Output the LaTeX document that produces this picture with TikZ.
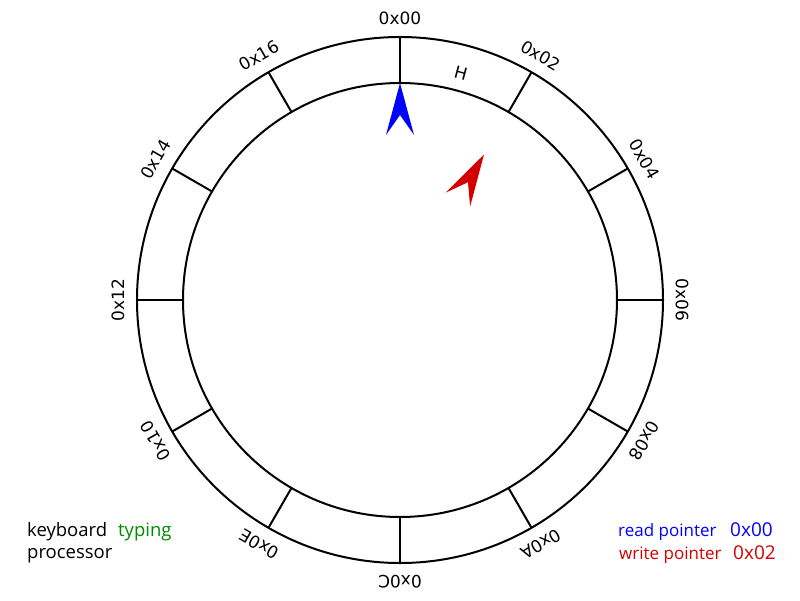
\documentclass[tikz,border=0pt]{standalone}
\usepackage{fontspec}
\setmainfont{DejaVu Sans}
\newfontfamily\legfont{Open Sans}
\definecolor{ptrblue}{RGB}{0,0,255}
\definecolor{ptrred}{RGB}{212,0,0}
\definecolor{typgreen}{RGB}{0,140,0}
\begin{document}
\begin{tikzpicture}[x=1pt,y=1pt,
  ring/.style={line width=2pt,draw=black},
  ringlabel/.style={inner sep=0pt,font=\fontsize{17}{17}\selectfont},
  legleft/.style={inner sep=0pt,anchor=base west,font=\legfont\fontsize{18.5}{18.5}\selectfont},
  legright/.style={inner sep=0pt,anchor=base west,font=\legfont\fontsize{17}{17}\selectfont},
  legval/.style={inner sep=0pt,anchor=base west,font=\legfont\fontsize{19}{19}\selectfont}]
\useasboundingbox[fill=white] (-400,-300) rectangle (400,300);
\coordinate (c) at (0,0);
\draw[ring] (c) circle[radius=263];
\draw[ring] (c) circle[radius=217];
\foreach \i/\lab in {0/0x00,1/0x02,2/0x04,3/0x06,4/0x08,5/0x0A,6/0x0C,7/0x0E,8/0x10,9/0x12,10/0x14,11/0x16}{
  \pgfmathsetmacro{\ang}{90-30*\i}
  \coordinate (in\i) at (\ang:217);
  \coordinate (out\i) at (\ang:263);
  \draw[ring] (in\i) -- (out\i);
  \node[ringlabel,rotate=\ang-90] (lab\i) at (\ang:282) {\lab};
}
\node[ringlabel,rotate=-15] (cellH) at (75:235) {H};
% read pointer arrow
\fill[ptrblue] (0,217) -- (14,165) -- (0,185) -- (-14,165) -- cycle;
% write pointer arrow
\begin{scope}[rotate=-30]
\fill[ptrred] (0,168) -- (14,116) -- (0,136) -- (-14,116) -- cycle;
\end{scope}
% legends
\node[legleft] (kb) at (-373,-236) {keyboard};
\node[legleft,text=typgreen] (typ) at (-282,-236) {typing};
\node[legleft] (proc) at (-373,-258) {processor};
\node[legright,text=ptrblue] (rp) at (218,-236) {read pointer};
\node[legval,text=ptrblue] (rpv) at (330,-236) {0x00};
\node[legright,text=ptrred] (wp) at (219,-259) {write pointer};
\node[legval,text=ptrred] (wpv) at (333,-259) {0x02};
\end{tikzpicture}
\end{document}
